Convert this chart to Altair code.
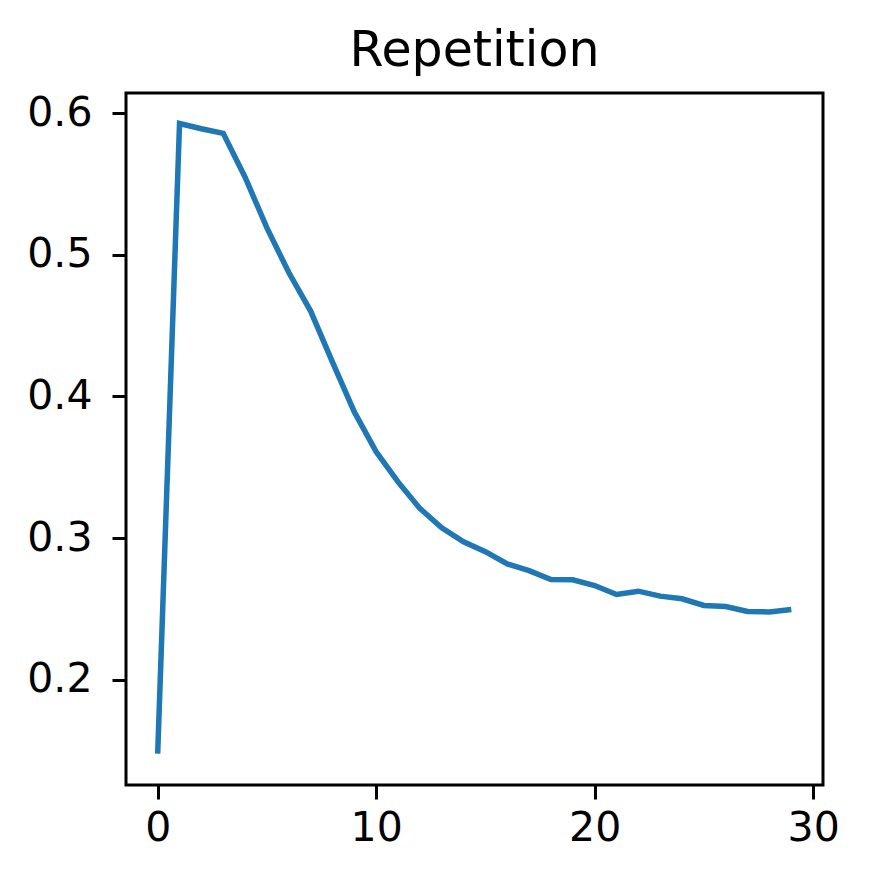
import altair as alt
import pandas as pd

steps = list(range(30))
values = [0.148, 0.5927, 0.589, 0.5857, 0.5548, 0.519, 0.4875, 0.4603, 0.4243, 0.3891,
          0.361, 0.3397, 0.321, 0.3073, 0.2975, 0.2905, 0.2818, 0.2771, 0.2708, 0.2706,
          0.2666, 0.2603, 0.2626, 0.2591, 0.2572, 0.2525, 0.2518, 0.2483, 0.2479, 0.2497]
x_ticks = [0, 10, 20, 30]
y_ticks = [0.2, 0.3, 0.4, 0.5, 0.6]

df = pd.DataFrame({"step": steps, "value": values})

FONT = "DejaVu Sans"

chart = alt.Chart(df).mark_line(color="#1f77b4", strokeWidth=5.5, clip=True).encode(
    x=alt.X("step:Q", scale=alt.Scale(domain=[-1.45, 30.45], nice=False, zero=False),
            axis=alt.Axis(values=x_ticks, title=None, grid=False, domain=False,
                          tickSize=14, tickWidth=3, tickColor="black",
                          labelFontSize=41, labelFont=FONT, labelColor="black",
                          labelPadding=9, labelFlush=False)),
    y=alt.Y("value:Q", scale=alt.Scale(domain=[0.1258, 0.6142], nice=False, zero=False),
            axis=alt.Axis(values=y_ticks, format=".1f", title=None, grid=False, domain=False,
                          tickSize=14, tickWidth=3, tickColor="black",
                          labelFontSize=41, labelFont=FONT, labelColor="black",
                          labelPadding=20, labelFlush=False)),
).properties(
    width=697,
    height=692,
    title=alt.TitleParams("Repetition", font=FONT, fontSize=49, fontWeight="normal",
                          color="black", anchor="middle", offset=16),
    autosize=alt.AutoSizeParams(type="none"),
    padding={"left": 118, "top": 85, "right": 30, "bottom": 80},
    background="white",
).configure_view(
    stroke="black", strokeWidth=3
)

chart.save("out.html", embed_options={"renderer": "svg", "actions": False})
